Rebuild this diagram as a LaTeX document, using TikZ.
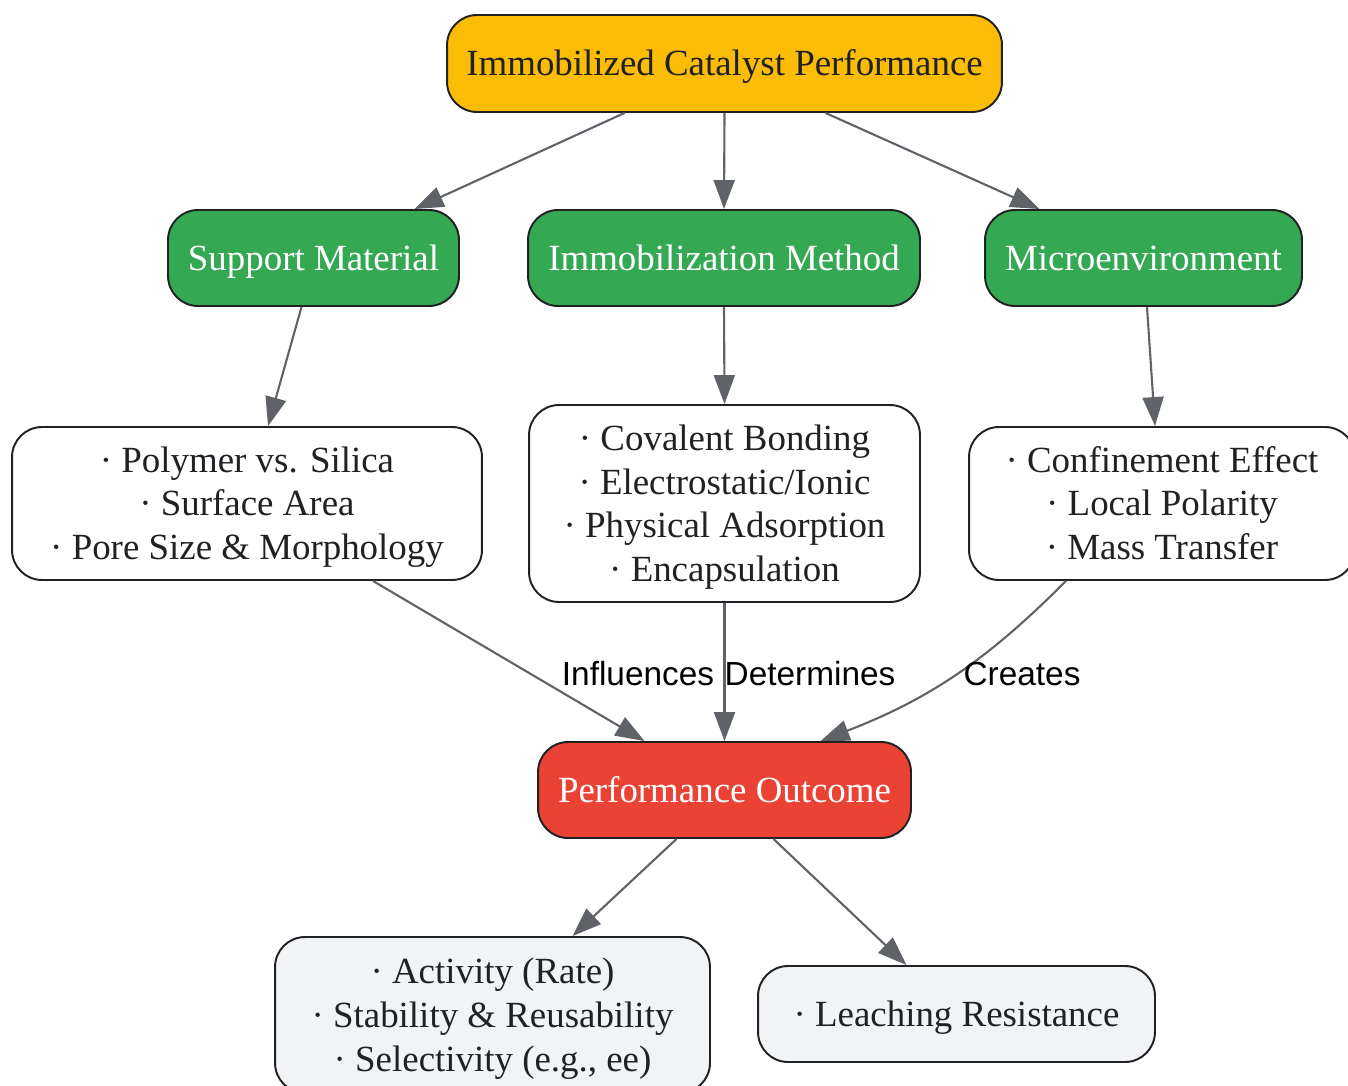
\documentclass[tikz,border=0pt]{standalone}
\usepackage{fontspec}
\setmainfont{Liberation Serif}
\newfontfamily\lblfont{Liberation Sans}
\usetikzlibrary{arrows.meta,calc}
\definecolor{gold}{HTML}{FBBC05}
\definecolor{leaf}{HTML}{34A853}
\definecolor{brick}{HTML}{EA4335}
\definecolor{mist}{HTML}{F1F3F4}
\definecolor{ink}{HTML}{202124}
\definecolor{wire}{HTML}{5F6368}
\tikzset{
    box/.style={draw=ink, line width=1.1pt, rounded corners=0.6cm, align=center,
        inner sep=0pt, text=ink, font=\fontsize{21}{25}\selectfont,
        text height=18.7pt, text depth=4.5pt},
    lines3/.style={text height=68.7pt},
    lines4/.style={text height=93.7pt},
    headbox/.style={box, fill=gold},
    catbox/.style={box, fill=leaf, text=white, minimum height=1.92cm},
    itembox/.style={box, fill=white},
    resbox/.style={box, fill=mist},
    edge/.style={draw=wire, line width=1.2pt, -{Triangle[length=0.58cm,width=0.42cm]}},
    lbl/.style={inner sep=0pt, text=black, font=\lblfont\fontsize{19}{23}\selectfont}
}
\begin{document}
\begin{tikzpicture}[x=0.02cm, y=-0.02cm]
        \useasboundingbox (0,0) rectangle (1348,1085);
        \node[headbox, minimum width=11.1cm, minimum height=1.94cm] (top) at (724.5,63.5) {Immobilized Catalyst Performance};
        \node[catbox, minimum width=5.82cm] (sup) at (313.5,258) {Support Material};
        \node[catbox, minimum width=7.84cm] (meth) at (724,258) {Immobilization Method};
        \node[catbox, minimum width=6.34cm] (micro) at (1143.5,258) {Microenvironment};
        \node[itembox, lines3, minimum width=9.4cm, minimum height=3.06cm] (detL) at (247,503.5)
            {· Polymer vs. Silica\\· Surface Area\\· Pore Size \& Morphology};
        \node[itembox, lines4, minimum width=7.82cm, minimum height=3.94cm] (detM) at (724.5,503.5)
            {· Covalent Bonding\\· Electrostatic/Ionic\\· Physical Adsorption\\· Encapsulation};
        \node[itembox, lines3, minimum width=7.72cm, minimum height=3.06cm] (detR) at (1162,503.5)
            {· Confinement Effect\\· Local Polarity\\· Mass Transfer};
        \node[box, fill=brick, text=white, minimum width=7.46cm, minimum height=1.92cm] (out) at (724.5,790) {Performance Outcome};
        \node[resbox, lines3, minimum width=8.7cm, minimum height=3.12cm] (resA) at (492.5,1015)
            {· Activity (Rate)\\· Stability \& Reusability\\· Selectivity (e.g., ee)};
        \node[resbox, minimum width=7.94cm, minimum height=1.92cm] (resB) at (956.5,1014) {· Leaching Resistance};
        \path[edge] ($(top.south)+(-100,0)$) -- ($(sup.north)+(101,0)$);
        \path[edge] (top.south) -- (meth.north);
        \path[edge] ($(top.south)+(101,0)$) -- ($(micro.north)+(-104,0)$);
        \path[edge] ($(sup.south)+(-12,0)$) -- ($(detL.north)+(21,0)$);
        \path[edge] (meth.south) -- (detM.north);
        \path[edge] ($(micro.south)+(3.5,0)$) -- ($(detR.north)+(-7,0)$);
        \path[edge] ($(detL.south)+(126,0)$) -- ($(out.north)+(-80,0)$);
        \path[edge] (detM.south) -- (out.north);
        \path[edge] ($(detR.south)+(-96,0)$) to[bend left=12] ($(out.north)+(96,0)$);
        \path[edge] ($(out.south)+(-48,0)$) -- ($(resA.north)+(80,0)$);
        \path[edge] ($(out.south)+(49,0)$) -- ($(resB.north)+(-50,0)$);
        \node[lbl] (lInf) at (638,674) {Influences};
        \node[lbl] (lDet) at (810,674) {Determines};
        \node[lbl] (lCre) at (1022,674) {Creates};
\end{tikzpicture}
\end{document}
